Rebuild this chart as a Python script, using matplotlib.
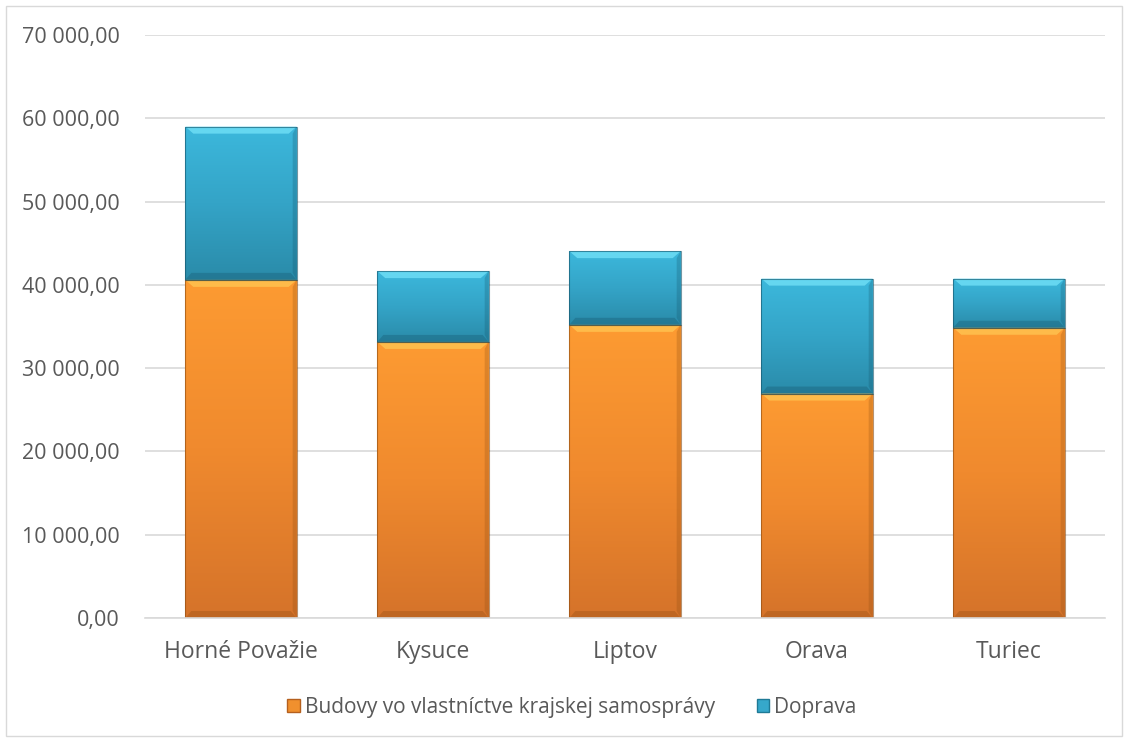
import numpy as np
import matplotlib
matplotlib.use("Agg")
import matplotlib.pyplot as plt
from matplotlib.colors import LinearSegmentedColormap
from matplotlib.patches import Rectangle
from matplotlib.ticker import FuncFormatter

categories = ["Horné Považie", "Kysuce", "Liptov", "Orava", "Turiec"]
budovy = [40600, 33150, 35200, 26950, 34850]
doprava = [18400, 8500, 8850, 13800, 5900]
series_names = ["Budovy vo vlastníctve krajskej samosprávy", "Doprava"]
yticks = [0, 10000, 20000, 30000, 40000, 50000, 60000, 70000]

plt.rcParams['font.family'] = ['Open Sans', 'DejaVu Sans']

W, H = 1129, 742
fig = plt.figure(figsize=(W/100, H/100), dpi=100)
ax = fig.add_axes([145/W, 1-618/H, (1105-145)/W, (618-35)/H])

# outer border
fig.patches.append(Rectangle((6/W, 6/H), (1122-6)/W, (736-6)/H, transform=fig.transFigure,
                             fill=False, edgecolor="#D9D9D9", linewidth=1))

ax.set_xlim(-0.5, len(categories)-0.5)
ax.set_ylim(0, 70000)
ax.set_yticks(yticks)
ax.yaxis.set_major_formatter(FuncFormatter(lambda v, p: f"{v:,.2f}".replace(",", " ").replace(".", ",")))
ax.grid(axis='y', color="#D9D9D9", linewidth=1.2)
ax.set_axisbelow(True)
for s in ["top", "right", "left"]:
    ax.spines[s].set_visible(False)
ax.spines["bottom"].set_color("#D9D9D9")
ax.spines["bottom"].set_linewidth(1.2)
ax.tick_params(axis='both', length=0, colors="#595959")
ax.tick_params(axis='y', pad=18, labelsize=15.5)
ax.tick_params(axis='x', pad=16, labelsize=16.5)
ax.set_xticks(range(len(categories)))
ax.set_xticklabels(categories)

orange_cmap = LinearSegmentedColormap.from_list("o", ["#D5732A", "#F08A2E", "#FD9B32"])
blue_cmap = LinearSegmentedColormap.from_list("b", ["#2A8BA9", "#34A4C7", "#3CB8DC"])
bw = 0.58
px_to_data = 70000 / 583.0
px_to_x = 5.0 / 960.0
x = np.arange(len(categories))

def draw_segments(bottoms, heights, base, cmap, hi, dark, label):
    bars = ax.bar(x, heights, bottom=bottoms, width=bw, color=base, edgecolor="none",
                  label=label, zorder=2)
    grad = np.linspace(0, 1, 256).reshape(-1, 1)
    for xi, b, h, bar in zip(x, bottoms, heights, bars):
        im = ax.imshow(grad, extent=[xi-bw/2, xi+bw/2, b, b+h], origin='lower',
                       aspect='auto', cmap=cmap, zorder=2.1)
        im.set_clip_path(bar)
        th = 7 * px_to_data
        ax.add_patch(plt.Polygon([[xi-bw/2, b+h], [xi+bw/2, b+h],
                                  [xi+bw/2-8*px_to_x, b+h-th], [xi-bw/2+8*px_to_x, b+h-th]],
                                 closed=True, facecolor=hi, edgecolor='none', zorder=2.2, alpha=0.85))
        ax.add_patch(plt.Polygon([[xi-bw/2, b], [xi+bw/2, b],
                                  [xi+bw/2-6*px_to_x, b+th], [xi-bw/2+6*px_to_x, b+th]],
                                 closed=True, facecolor=dark, edgecolor='none', zorder=2.2, alpha=0.3))
        ax.add_patch(plt.Polygon([[xi+bw/2, b], [xi+bw/2, b+h],
                                  [xi+bw/2-4*px_to_x, b+h-th], [xi+bw/2-4*px_to_x, b+th]],
                                 closed=True, facecolor=dark, edgecolor='none', zorder=2.2, alpha=0.25))
        ax.add_patch(Rectangle((xi-bw/2, b), bw, h, fill=False, edgecolor=dark,
                               linewidth=0.8, zorder=2.3, alpha=0.6))
    return bars

draw_segments(np.zeros(len(x)), np.array(budovy), "#F08A2E", orange_cmap, "#FFC24F", "#8A4A10", series_names[0])
draw_segments(np.array(budovy), np.array(doprava), "#34A4C7", blue_cmap, "#6DDDF5", "#135066", series_names[1])

handles = [Rectangle((0, 0), 1, 1, facecolor="#F0902E", edgecolor="#B5601E"),
           Rectangle((0, 0), 1, 1, facecolor="#36A8CB", edgecolor="#1F7A96")]
leg = fig.legend(handles, series_names, loc='center', bbox_to_anchor=(572/W, 1-707/H),
                 ncol=2, frameon=False, fontsize=15, handlelength=0.6, handleheight=0.6,
                 handletextpad=0.25, columnspacing=2.0, labelcolor="#595959")

fig.savefig("out.png", dpi=100)
